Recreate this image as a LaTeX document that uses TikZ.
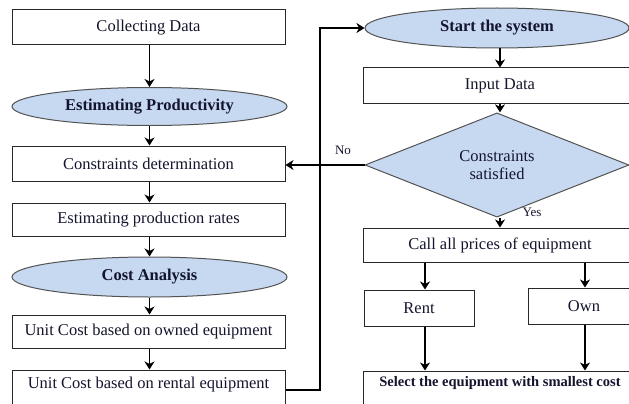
\documentclass[tikz,border=0pt]{standalone}
\usepackage{fontspec}
\setmainfont{Liberation Serif}
\usetikzlibrary{shapes.geometric,arrows.meta,calc}
\definecolor{txt}{RGB}{20,20,45}
\definecolor{fillb}{RGB}{198,217,241}
\definecolor{edge}{RGB}{40,40,40}
\tikzset{
  box/.style={draw=edge, line width=1pt, rectangle, inner sep=0pt, text=txt,
    font=\fontsize{16.5}{18}\selectfont},
  oval/.style={draw=edge!80, line width=1pt, ellipse, fill=fillb, inner sep=0pt,
    text=txt, font=\fontsize{16.5}{18}\selectfont\bfseries},
  dia/.style={draw=edge!80, line width=1pt, diamond, fill=fillb, inner sep=0pt,
    text=txt, align=center, font=\fontsize{16.5}{18}\selectfont},
  arr/.style={draw=black, line width=1.3pt, -{Stealth[length=8pt,width=10pt,inset=2.5pt]}},
  lbl/.style={text=txt, font=\fontsize{13}{14}\selectfont, inner sep=0pt},
}
\begin{document}
\begin{tikzpicture}[x=1pt,y=-1pt]
\useasboundingbox (0,0) rectangle (629,404);
\clip (0,0) rectangle (629,404);
% left column
\node[box, minimum width=273, minimum height=35] (cd) at (148.5,27.5) {Collecting Data};
\node[oval, minimum width=275, minimum height=38] (ep) at (149.5,106.5) {Estimating Productivity};
\node[box, minimum width=273, minimum height=35] (cdet) at (148.5,163.5) {Constraints determination};
\node[box, minimum width=273, minimum height=33] (epr) at (148.5,219.5) {Estimating production rates};
\node[oval, minimum width=275, minimum height=40] (ca) at (149.5,277) {Cost Analysis};
\node[box, minimum width=273, minimum height=33] (uco) at (148.5,331.5) {Unit Cost based on owned equipment};
\node[box, minimum width=273, minimum height=40] (ucr) at (148.5,390) {\raisebox{5pt}[\height][\depth]{Unit Cost based on rental equipment}};
% right column
\node[oval, minimum width=264, minimum height=40] (st) at (497,28) {Start the system};
\node[box, minimum width=274, minimum height=35] (id) at (500,85.5) {Input Data};
\node[dia, minimum width=264, minimum height=84] (dm) at (497,165) {Constraints\\satisfied};
\node[box, minimum width=274, minimum height=34] (cap) at (500,245) {Call all prices of equipment};
\node[box, minimum width=110, minimum height=36] (rent) at (419,308) {Rent};
\node[box, minimum width=112, minimum height=36] (own) at (584,306) {Own};
\node[box, minimum width=274, minimum height=40, font=\fontsize{14.5}{16}\selectfont\bfseries] (sel) at (500,391) {\raisebox{8pt}[\height][\depth]{Select the equipment with smallest cost}};
\node[lbl] (no) at (343,150) {No};
\node[lbl] (yes) at (532,212) {Yes};
\coordinate (xl) at (149.5,0);
\coordinate (xa) at (425,0);
\coordinate (xb) at (585,0);
\coordinate (loopx) at (320,200);
% connectors left
\draw[arr] (cd.south -| xl) -- (ep.north -| xl);
\draw[arr] (ep.south -| xl) -- (cdet.north -| xl);
\draw[arr] (cdet.south -| xl) -- (epr.north -| xl);
\draw[arr] (epr.south -| xl) -- (ca.north -| xl);
\draw[arr] (ca.south -| xl) -- (uco.north -| xl);
\draw[arr] (uco.south -| xl) -- (ucr.north -| xl);
\draw[arr] (ucr.east) -| (loopx) |- (st.west);
% connectors right
\draw[arr] (st.south -| id.north) -- (id.north);
\draw[arr] (id.south) -- (id.south |- dm.north);
\draw[arr] (dm.west) -- (dm.west -| cdet.east);
\draw[arr] (cap.north |- dm.south) -- (cap.north);
\draw[arr] (cap.south -| xa) -- (rent.north -| xa);
\draw[arr] (cap.south -| xb) -- (own.north -| xb);
\draw[arr] (rent.south -| xa) -- (sel.north -| xa);
\draw[arr] (own.south -| xb) -- (sel.north -| xb);
\end{tikzpicture}
\end{document}
